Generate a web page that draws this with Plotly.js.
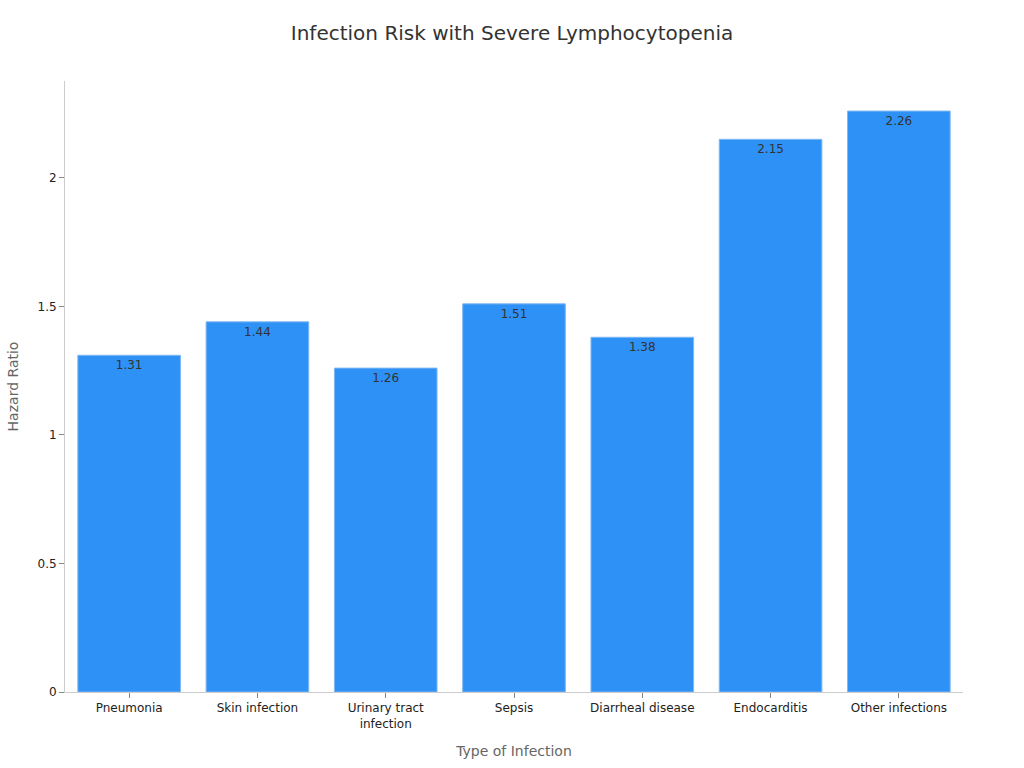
<!DOCTYPE html>
<html>
<head>
<meta charset="utf-8">
<script src="https://cdn.plot.ly/plotly-3.0.1.min.js"></script>
<style>html,body{margin:0;padding:0;background:#fff;}#chart{width:1024px;height:768px;}</style>
</head>
<body>
<div id="chart"></div>
<script>
const categories = ["Pneumonia", "Skin infection", "Urinary tract<br>infection", "Sepsis", "Diarrheal disease", "Endocarditis", "Other infections"];
const hazardRatios = [1.31, 1.44, 1.26, 1.51, 1.38, 2.15, 2.26];
const valueLabels = ["1.31", "1.44", "1.26", "1.51", "1.38", "2.15", "2.26"];

const trace = {
  type: "bar",
  x: categories,
  y: hazardRatios,
  text: valueLabels,
  textposition: "inside",
  insidetextanchor: "end",
  textangle: 0,
  insidetextfont: {family: "DejaVu Sans, sans-serif", size: 12, color: "#333333"},
  marker: {color: "#2E91F5", line: {color: "#7FB8F2", width: 1}},
  hoverinfo: "none"
};

const layout = {
  width: 1024, height: 768,
  margin: {l: 65, r: 61, t: 81, b: 76},
  paper_bgcolor: "#ffffff", plot_bgcolor: "#ffffff",
  font: {family: "DejaVu Sans, sans-serif", size: 12, color: "#222222"},
  title: {text: "Infection Risk with Severe Lymphocytopenia", x: 0.5, xanchor: "center", y: 0.957, yanchor: "middle", font: {size: 20, color: "#333333"}},
  bargap: 0.2,
  showlegend: false,
  xaxis: {
    title: {text: "Type of Infection", font: {size: 14, color: "#666666"}, standoff: 16},
    showline: true, linecolor: "#cccccc", linewidth: 1,
    ticks: "outside", ticklen: 5, tickcolor: "#888888",
    showgrid: false, zeroline: false,
    tickfont: {size: 12, color: "#222222"}
  },
  yaxis: {
    title: {text: "Hazard Ratio", font: {size: 14, color: "#666666"}, standoff: 15},
    range: [0, 2.377],
    showline: true, linecolor: "#cccccc", linewidth: 1,
    ticks: "outside", ticklen: 5, tickcolor: "#888888",
    showgrid: false, zeroline: false,
    tickvals: [0, 0.5, 1, 1.5, 2],
    ticktext: ["0", "0.5", "1", "1.5", "2"],
    tickfont: {size: 12, color: "#222222"}
  }
};

Plotly.newPlot("chart", [trace], layout, {displayModeBar: false, staticPlot: true});
</script>
</body>
</html>
